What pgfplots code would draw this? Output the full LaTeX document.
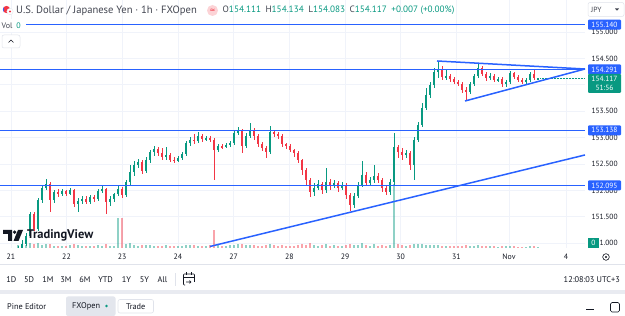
\documentclass[border=0pt]{standalone}
\usepackage{pgfplots}
\pgfplotsset{compat=1.18}
\usepackage{pgfplotstable}
\usepackage{fontspec}
\setmainfont{PT Sans}
\newfontfamily\dejavu{DejaVu Sans}
\definecolor{tvgreen}{HTML}{089981}
\definecolor{tvred}{HTML}{F23645}
\definecolor{tvblue}{HTML}{2962FF}
\definecolor{tvtext}{HTML}{131722}
\definecolor{tvgrid}{HTML}{F0F3FA}
\definecolor{tvgray}{HTML}{E0E3EB}
\definecolor{tvsub}{HTML}{434651}

\pgfplotstableread{
x o h l c v
18 150.814 150.947 150.758 150.909 3
22 150.909 151.061 150.871 150.985 4
26 150.985 151.193 150.947 151.136 3
30 151.136 151.591 151.098 151.553 5
34 151.553 151.591 151.231 151.269 4
38 151.269 151.856 151.231 151.818 5
42 151.818 152.102 151.761 152.045 3
46 152.045 152.216 152.008 152.121 4
50 152.121 152.159 151.591 151.818 4
54 151.818 152.008 151.761 151.970 2
58 151.970 152.027 151.875 151.932 2
62 151.932 152.027 151.894 151.989 2
66 151.989 152.008 151.894 151.932 2
70 151.932 152.045 151.913 152.008 3
74 152.008 152.027 151.686 151.742 4
78 151.742 151.856 151.591 151.799 3
82 151.799 151.894 151.742 151.837 2
86 151.837 151.894 151.742 151.780 2
90 151.780 151.913 151.742 151.875 2
94 151.875 151.913 151.780 151.837 2
98 151.837 152.027 151.799 151.989 3
102 151.989 152.083 151.951 152.027 2
106 152.027 152.045 151.553 151.780 4
110 151.780 151.894 151.705 151.837 2
114 151.837 151.951 151.780 151.932 2
118 151.932 152.083 151.894 152.027 30
122 152.027 152.064 151.856 151.913 30
126 151.913 152.197 151.875 152.159 4
130 152.159 152.481 152.102 152.349 5
134 152.349 152.557 152.273 152.481 3
138 152.481 152.595 152.424 152.538 2
142 152.538 152.576 152.311 152.367 3
146 152.367 152.633 152.330 152.576 3
150 152.576 152.765 152.519 152.727 3
154 152.727 152.841 152.652 152.784 2
158 152.784 152.822 152.652 152.708 2
162 152.708 152.803 152.576 152.633 2
166 152.633 152.822 152.576 152.671 3
170 152.671 152.708 152.538 152.576 2
174 152.576 152.633 152.519 152.557 2
178 152.557 152.652 152.538 152.614 2
182 152.614 152.727 152.576 152.689 2
186 152.689 152.936 152.652 152.898 3
190 152.898 153.011 152.841 152.955 3
194 152.955 153.068 152.879 152.936 3
198 152.936 153.106 152.898 153.030 2
202 153.030 153.068 152.917 152.974 2
206 152.974 153.030 152.936 152.992 2
210 152.992 153.030 152.917 152.955 3
214 152.955 152.992 152.197 152.765 18
218 152.765 152.879 152.727 152.841 4
222 152.841 152.879 152.784 152.822 2
226 152.822 152.898 152.803 152.860 2
230 152.860 152.936 152.822 152.898 3
234 152.898 153.144 152.860 153.087 3
238 153.087 153.201 153.049 153.144 4
242 153.144 153.163 152.708 152.841 4
246 152.841 153.087 152.803 153.030 3
250 153.030 153.277 152.992 153.144 3
254 153.144 153.182 152.955 153.030 3
258 153.030 153.068 152.822 152.879 2
262 152.879 152.917 152.746 152.803 2
266 152.803 152.841 152.614 152.727 3
270 152.727 153.220 152.689 153.106 4
274 153.106 153.144 153.011 153.068 3
278 153.068 153.106 152.974 153.030 2
282 153.030 153.068 152.822 152.879 3
286 152.879 152.898 152.784 152.841 2
290 152.841 152.879 152.727 152.765 2
294 152.765 152.784 152.633 152.708 2
298 152.708 152.746 152.519 152.576 3
302 152.576 152.595 152.292 152.386 4
306 152.386 152.424 152.083 152.197 3
310 152.197 152.235 151.875 151.970 5
314 151.970 152.140 151.894 152.045 3
318 152.045 152.197 152.008 152.121 2
322 152.121 152.159 151.932 152.008 3
326 152.008 152.424 151.951 152.159 4
330 152.159 152.216 152.008 152.083 2
334 152.083 152.197 152.045 152.140 3
338 152.140 152.178 151.970 152.045 2
342 152.045 152.159 152.008 152.102 2
346 152.102 152.140 151.837 151.913 3
350 151.913 151.951 151.610 151.723 4
354 151.723 151.951 151.667 151.894 3
358 151.894 152.159 151.856 152.102 3
362 152.102 152.557 152.064 152.292 5
366 152.292 152.349 152.083 152.140 3
370 152.140 152.254 152.102 152.197 2
374 152.197 152.481 152.140 152.273 4
378 152.273 152.330 152.140 152.197 2
382 152.197 152.235 151.970 152.045 3
386 152.045 152.102 151.913 151.970 2
390 151.970 152.216 151.913 152.159 3
394 152.159 153.087 152.083 152.822 64
398 152.822 152.860 152.614 152.727 4
402 152.727 152.803 152.576 152.671 3
406 152.671 152.765 152.614 152.708 2
410 152.708 152.746 152.386 152.481 3
414 152.481 153.011 152.197 152.955 4
418 152.955 153.295 152.917 153.239 4
422 153.239 153.655 153.201 153.561 4
426 153.561 153.939 153.523 153.807 3
430 153.807 154.053 153.750 153.996 3
434 153.996 154.318 153.939 154.242 3
438 154.242 154.451 154.129 154.280 3
442 154.280 154.356 154.091 154.148 2
446 154.148 154.280 154.091 154.167 2
450 154.167 154.205 154.053 154.110 2
454 154.110 154.148 154.015 154.053 2
458 154.053 154.091 153.977 154.015 2
462 154.015 154.053 153.845 153.902 2
466 153.902 153.958 153.693 153.864 3
470 153.864 154.053 153.826 154.015 2
474 154.015 154.205 153.977 154.167 2
478 154.167 154.413 154.129 154.318 3
482 154.318 154.356 154.167 154.205 2
486 154.205 154.242 154.072 154.129 2
490 154.129 154.224 154.091 154.167 2
494 154.167 154.205 154.053 154.091 2
498 154.091 154.148 154.053 154.110 1
502 154.110 154.148 153.958 154.015 2
506 154.015 154.091 153.958 154.053 2
510 154.053 154.261 154.015 154.224 2
514 154.224 154.242 154.110 154.148 2
518 154.148 154.186 154.053 154.091 1
522 154.091 154.129 154.015 154.053 1
526 154.053 154.129 154.015 154.091 1
530 154.091 154.242 154.053 154.205 2
534 154.205 154.280 154.091 154.129 2
538 154.111 154.134 154.083 154.117 1
}\candles

\begin{document}
\begin{tikzpicture}
\useasboundingbox (0,0) rectangle (625pt,316pt);
\fill[white] (0,0) rectangle (625pt,316pt);

% price pane: grid, labels
\begin{axis}[at={(0pt,68pt)}, anchor=south west, scale only axis,
  width=585pt, height=248pt, xmin=0, xmax=585, ymin=150.909, ymax=155.606,
  axis line style={draw=none}, tick style={draw=none},
  grid=major, major grid style={tvgrid, line width=0.6pt},
  xtick={10.8,66.5,122.2,177.9,233.6,289.3,345,400.7,456.4,509,566},
  xticklabels={21,22,23,24,27,28,29,30,31,Nov,4},
  xticklabel style={font=\fontsize{7.8}{8}\selectfont, text=tvtext, yshift=-2pt},
  ytick={151,151.5,152,152.5,153,153.5,154,154.5,155},
  yticklabels={151.000,151.500,152.000,152.500,153.000,153.500,,154.500,155.000},
  yticklabel pos=right,
  yticklabel style={font=\fontsize{7.5}{8}\selectfont, text=tvtext, xshift=3pt},
  clip=true]
\addplot[tvgreen, densely dotted, line width=0.5pt] coordinates {(540,154.117) (585,154.117)};
\end{axis}

% volume overlay
\begin{axis}[at={(0pt,68pt)}, anchor=south west, scale only axis,
  width=585pt, height=248pt, xmin=0, xmax=585, ymin=0, ymax=248,
  hide axis, clip=true]
\addplot[tvgreen, opacity=0.45, line width=1.6pt, quiver={u=0,v=\thisrow{v}},
  restrict expr to domain={\thisrow{c}-\thisrow{o}}{0:100}] table[x=x, y expr=0] {\candles};
\addplot[tvred, opacity=0.45, line width=1.6pt, quiver={u=0,v=\thisrow{v}},
  restrict expr to domain={\thisrow{c}-\thisrow{o}}{-100:-0.0000001}] table[x=x, y expr=0] {\candles};
\end{axis}

% candles
\begin{axis}[at={(0pt,68pt)}, anchor=south west, scale only axis,
  width=585pt, height=248pt, xmin=0, xmax=585, ymin=150.909, ymax=155.606,
  hide axis, clip=true]
\addplot[draw=none, mark=none, restrict expr to domain={\thisrow{c}-\thisrow{o}}{0:100},
  error bars/.cd, y dir=both, y explicit, error mark=none,
  error bar style={draw=tvgreen, line width=0.7pt, solid}]
  table[x=x, y expr=(\thisrow{h}+\thisrow{l})/2, y error expr=(\thisrow{h}-\thisrow{l})/2] {\candles};
\addplot[draw=none, mark=none, restrict expr to domain={\thisrow{c}-\thisrow{o}}{-100:-0.0000001},
  error bars/.cd, y dir=both, y explicit, error mark=none,
  error bar style={draw=tvred, line width=0.7pt, solid}]
  table[x=x, y expr=(\thisrow{h}+\thisrow{l})/2, y error expr=(\thisrow{h}-\thisrow{l})/2] {\candles};
\addplot[draw=none, mark=none, restrict expr to domain={\thisrow{c}-\thisrow{o}}{0:100},
  error bars/.cd, y dir=both, y explicit, error mark=none,
  error bar style={draw=tvgreen, line width=2.6pt, solid}]
  table[x=x, y expr=(\thisrow{o}+\thisrow{c})/2, y error expr=abs(\thisrow{c}-\thisrow{o})/2+0.004] {\candles};
\addplot[draw=none, mark=none, restrict expr to domain={\thisrow{c}-\thisrow{o}}{-100:-0.0000001},
  error bars/.cd, y dir=both, y explicit, error mark=none,
  error bar style={draw=tvred, line width=2.6pt, solid}]
  table[x=x, y expr=(\thisrow{o}+\thisrow{c})/2, y error expr=abs(\thisrow{c}-\thisrow{o})/2+0.004] {\candles};
\end{axis}

% drawings
\begin{axis}[at={(0pt,68pt)}, anchor=south west, scale only axis,
  width=585pt, height=248pt, xmin=0, xmax=585, ymin=150.909, ymax=155.606,
  hide axis, clip=true]
\addplot[draw=tvblue, line width=1.5pt] coordinates {(0,155.140) (585,155.140)};
\addplot[draw=tvblue, line width=1.5pt] coordinates {(0,154.291) (585,154.291)};
\addplot[draw=tvblue, line width=1.5pt] coordinates {(0,153.138) (585,153.138)};
\addplot[draw=tvblue, line width=1.5pt] coordinates {(0,152.095) (585,152.095)};
\addplot[draw=tvblue, line width=1.5pt] coordinates {(210,150.938) (585,152.671)};
\addplot[draw=tvblue, line width=1.5pt] coordinates {(437,154.451) (585,154.299)};
\addplot[draw=tvblue, line width=1.5pt] coordinates {(465,153.693) (585,154.299)};
\end{axis}

\begin{scope}[x=1pt,y=1pt]
% price badges
\tikzset{badge/.style={fill=#1, text=white, inner sep=0pt, minimum width=33pt, minimum height=10pt,
  font=\fontsize{7.5}{8}\selectfont, rounded corners=1pt}}
\node[badge=tvblue] at (604.5,291.4) {155.140};
\node[badge=tvblue] at (604.5,246.6) {154.291};
\node[fill=tvgreen, text=white, inner sep=0pt, minimum width=33pt, minimum height=19pt, rounded corners=1pt,
  align=center, font=\fontsize{7.5}{9}\selectfont] at (604.5,232.5) {154.117\\51:56};
\node[badge=tvblue] at (604.5,185.7) {153.138};
\node[badge=tvblue] at (604.5,130.6) {152.095};
\node[fill=tvgreen, text=white, inner sep=0pt, minimum width=11pt, minimum height=10pt,
  font=\fontsize{7.5}{8}\selectfont] at (593.5,73) {0};

% header
\fill[white] (0,284) rectangle (26,297);
\node[anchor=west, inner sep=0pt, text=tvsub, font=\fontsize{8}{8}\selectfont] at (1.5,290.5) {Vol\hspace{4pt}\textcolor{tvgreen}{0}};
\fill[tvred] (6.5,306.5) circle (3.6);
\fill[tvblue] (6.5,306.5) ++(135:3.6) arc (135:225:3.6) -- cycle;
\fill[white] (10,304.5) circle (3.2);
\draw[tvgray, line width=0.3pt] (10,304.5) circle (3.2);
\fill[tvred] (10,304.5) circle (1.2);
\node[anchor=west, inner sep=0pt, text=tvsub, font=\fontsize{10.6}{11}\selectfont] at (16,305.5)
  {U.S. Dollar / Japanese Yen · 1h · FXOpen};
\fill[tvred!22] (212.5,305.5) circle (5.5);
\node[inner sep=0pt, text=tvred, font=\dejavu\fontsize{7}{7}\selectfont] at (212.5,305.5) {≈};
\node[anchor=west, inner sep=0pt, font=\fontsize{9.2}{10}\selectfont, text=tvsub] at (222.5,305.5)
  {O\textcolor{tvgreen}{154.111}\hspace{4.5pt}H\textcolor{tvgreen}{154.134}\hspace{4.5pt}L\textcolor{tvgreen}{154.083}\hspace{4.5pt}C\textcolor{tvgreen}{154.117}\hspace{4.5pt}\textcolor{tvgreen}{+0.007 (+0.00\%)}};
\draw[tvgray, fill=white, rounded corners=2pt, line width=0.5pt] (2,268) rectangle (20,281);
\draw[tvtext, line width=0.6pt] (8.5,273.5) -- (11,276) -- (13.5,273.5);
\draw[tvgray, fill=white, rounded corners=2pt, line width=0.5pt] (588,299.5) rectangle (624,313.5);
\node[anchor=west, inner sep=0pt, text=tvsub, font=\fontsize{7.5}{8}\selectfont] at (591,306.5) {JPY};
\fill[tvsub] (615,307.5) -- (619,307.5) -- (617,305.3) -- cycle;

% TradingView logo
\fill[tvtext] (3,86) -- (12,86) -- (12,75) -- (8,75) -- (8,82) -- (3,82) -- cycle;
\fill[tvtext] (14.6,83.8) circle (1.9);
\fill[tvtext] (18,86) -- (23,86) -- (18.5,75) -- (13.5,75) -- cycle;
\node[anchor=west, inner sep=0pt, text=tvtext, font=\bfseries\fontsize{12.5}{12}\selectfont] at (27,80.5) {TradingView};

% time axis extras
\draw[tvtext, line width=0.6pt] (606,59) circle (3.3);
\fill[tvtext] (606,59) circle (1.1);
\draw[tvgray, line width=0.6pt] (0,52) -- (625,52);

% toolbar
\foreach \lab/\xx in {1D/11.4, 5D/29, 1M/48, 3M/66, 6M/85, YTD/105.6, 1Y/126.5, 5Y/144.5, All/162.4}
  \node[inner sep=0pt, text=tvtext, font=\fontsize{8.3}{8}\selectfont] at (\xx,36.5) {\lab};
\draw[tvgray, line width=0.6pt] (175.5,30) -- (175.5,43);
\begin{scope}[shift={(30,0)}]
\draw[tvtext, line width=0.6pt, rounded corners=0.8pt] (155,31) -- (153.5,31) -- (153.5,42) -- (164.5,42) -- (164.5,34);
\draw[tvtext, line width=0.6pt] (153.5,39) -- (164.5,39);
\draw[tvtext, line width=0.6pt] (156.5,43.5) -- (156.5,41) (161.5,43.5) -- (161.5,41);
\draw[tvtext, line width=0.6pt] (156,34) -- (161,34) (159.5,35.5) -- (161,34) -- (159.5,32.5);
\end{scope}
\node[anchor=east, inner sep=0pt, text=tvtext, font=\fontsize{8.3}{8}\selectfont] at (620,36.5) {12:08:03 UTC+3};

% bottom panel
\fill[tvgray!70] (0,22) rectangle (625,26);
\node[anchor=west, inner sep=0pt, text=tvtext, font=\fontsize{8.3}{8}\selectfont] at (7,9.5) {Pine Editor};
\fill[tvgray!90, rounded corners=2pt] (66,0) rectangle (115.5,19.5);
\node[anchor=west, inner sep=0pt, text=tvtext, font=\fontsize{8.3}{8}\selectfont] at (72,9.5) {FXOpen};
\fill[tvgreen] (106.5,10) circle (1.4);
\draw[tvgray, fill=white, rounded corners=2pt, line width=0.6pt] (118,3) rectangle (153.5,16.5);
\node[inner sep=0pt, text=tvtext, font=\fontsize{8.3}{8}\selectfont] at (135.7,9.5) {Trade};
\draw[tvtext, line width=0.6pt] (586,6.5) -- (594,6.5);
\draw[tvtext, line width=0.6pt, rounded corners=1.5pt] (610.5,4) rectangle (619.5,13.5);
\end{scope}
\end{tikzpicture}
\end{document}
